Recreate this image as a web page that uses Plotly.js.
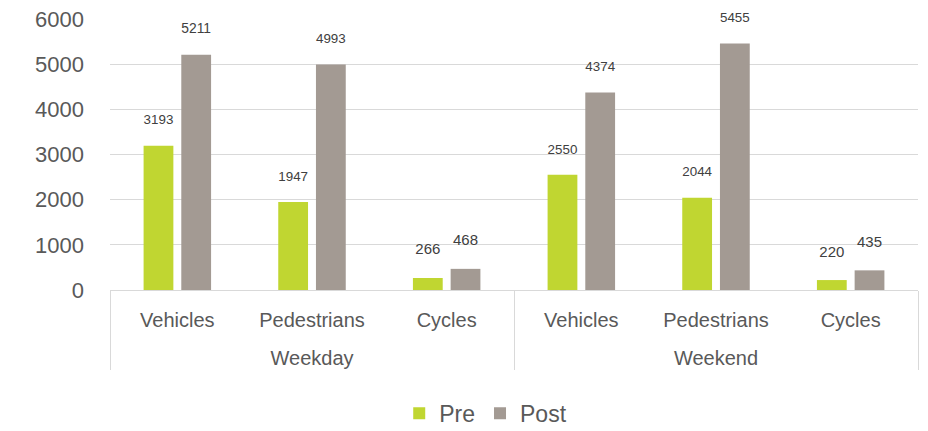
<!DOCTYPE html>
<html>
<head>
<meta charset="utf-8">
<script src="https://cdn.plot.ly/plotly-3.0.1.min.js"></script>
<style>
  html, body { margin: 0; padding: 0; background: #fff; }
  #chart { width: 928px; height: 431px; }
</style>
</head>
<body>
<div id="chart"></div>
<script>
const groups = ['Weekday', 'Weekday', 'Weekday', 'Weekend', 'Weekend', 'Weekend'];
const categories = ['Vehicles', 'Pedestrians', 'Cycles', 'Vehicles', 'Pedestrians', 'Cycles'];
const preValues = [3193, 1947, 266, 2550, 2044, 220];
const postValues = [5211, 4993, 468, 4374, 5455, 435];

// group row sits a blank line lower than Plotly puts it by default
const xGroups = groups.map(g => ' <br>' + g);

// small spacer line under each label lifts it off the bar like the original
const label = v => v + '<br><span style="font-size:6px"> </span>';

const labelFont = { family: 'Liberation Sans, Arial, sans-serif', size: 15, color: '#404040' };

const pre = {
  type: 'bar',
  name: 'Pre',
  x: [xGroups, categories],
  y: preValues,
  marker: { color: '#c0d631' },
  text: preValues.map(label),
  textposition: 'outside',
  textfont: labelFont,
  cliponaxis: false,
  hoverinfo: 'y'
};

const post = {
  type: 'bar',
  name: 'Post',
  x: [xGroups, categories],
  y: postValues,
  marker: { color: '#a39a93' },
  text: postValues.map(label),
  textposition: 'outside',
  textfont: labelFont,
  cliponaxis: false,
  hoverinfo: 'y'
};

const layout = {
  width: 928,
  height: 431,
  margin: { l: 110, r: 10, t: 19, b: 141, autoexpand: false },
  paper_bgcolor: '#fff',
  plot_bgcolor: '#fff',
  font: { family: 'Liberation Sans, Arial, sans-serif', color: '#595959', size: 20 },
  barmode: 'group',
  bargap: 0.44,
  bargroupgap: 0.21,
  showlegend: true,
  legend: {
    orientation: 'h',
    x: 0.465,
    xanchor: 'center',
    y: -0.455,
    yanchor: 'middle',
    font: { size: 23, color: '#595959' },
    traceorder: 'normal'
  },
  xaxis: {
    type: 'multicategory',
    automargin: false,
    showline: true,
    linecolor: '#d9d9d9',
    linewidth: 1,
    showdividers: true,
    dividercolor: '#d9d9d9',
    dividerwidth: 1,
    ticks: '',
    ticklabelstandoff: 12,
    tickfont: { size: 20, color: '#595959' },
    fixedrange: true
  },
  yaxis: {
    automargin: false,
    range: [0, 6000],
    dtick: 1000,
    showgrid: true,
    gridcolor: '#d9d9d9',
    gridwidth: 1,
    zeroline: false,
    showline: false,
    ticks: '',
    ticklabelstandoff: 25,
    tickfont: { size: 22, color: '#595959' },
    fixedrange: true
  }
};

Plotly.newPlot('chart', [pre, post], layout, { displayModeBar: false, staticPlot: true });
</script>
</body>
</html>
